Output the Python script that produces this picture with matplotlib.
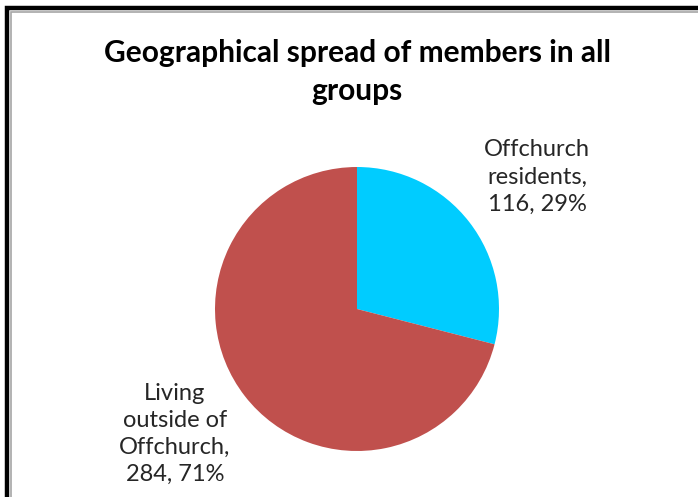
import matplotlib.pyplot as plt
from matplotlib.patches import Rectangle

title = "Geographical spread of members in all\ngroups"
categories = ["Offchurch\nresidents", "Living\noutside of\nOffchurch"]
members = [116, 284]
colors = ["#00CCFF", "#C0504D"]

total = sum(members)
labels = [f"{c},\n{v}, {round(100 * v / total)}%" for c, v in zip(categories, members)]

fig = plt.figure(figsize=(6.98, 4.97), dpi=100)
ax = fig.add_axes([0, 0, 1, 1])

# chart frame (black outer, grey inner)
ax.add_patch(Rectangle((7, -20), 720, 509, fill=False, edgecolor="black", lw=3.2))
ax.add_patch(Rectangle((10.5, -20), 720, 505.5, fill=False, edgecolor="#A6A6A6", lw=1.2))

ax.pie(members, colors=colors, startangle=90, counterclock=False,
       center=(357, 188), radius=142, frame=True)

ax.text(357, 425, title, ha="center", va="center", fontsize=21.5,
        fontweight="bold", family="Lato", linespacing=1.4, color="black")

label_pos = [(537, 320), (175, 63)]
for (x, y), lab in zip(label_pos, labels):
    ax.text(x, y, lab, ha="center", va="center", fontsize=17,
            family="Lato", linespacing=1.36, color="#262626")

ax.set_xlim(0, 698)
ax.set_ylim(0, 497)
ax.axis("off")

fig.savefig("out.png", dpi=100)
